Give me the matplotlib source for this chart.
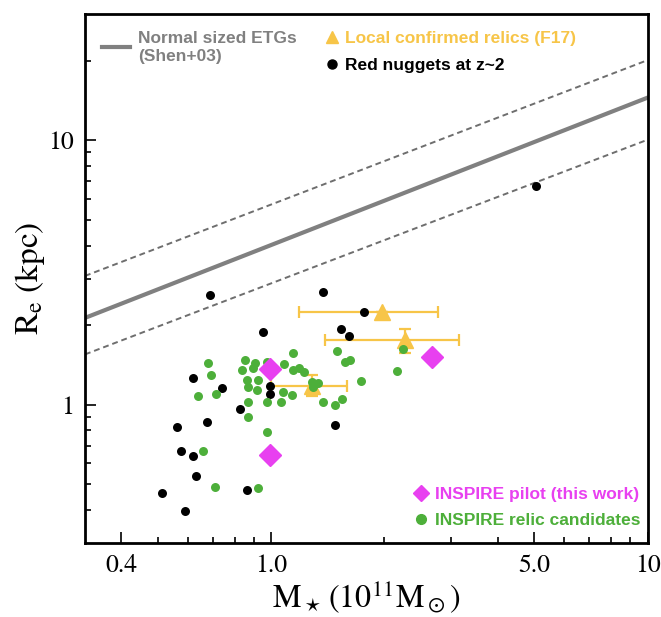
import matplotlib
matplotlib.use('Agg')
import matplotlib.pyplot as plt
from matplotlib.lines import Line2D
from matplotlib.ticker import FixedLocator, NullFormatter, FixedFormatter

plt.rcParams['mathtext.fontset'] = 'stix'

# Shen+03 size-mass relation for normal ETGs (end points) and its scatter
shen_mass = [0.32, 10.0]
shen_re = [2.13, 14.5]
shen_re_hi = [3.07, 20.1]
shen_re_lo = [1.55, 10.05]

# red nuggets at z~2
nug_mass = [5.06, 0.686, 1.371, 0.953, 1.76, 1.53, 1.61, 0.619, 0.742, 0.994, 0.994,
            0.828, 0.562, 0.674, 1.475, 0.575, 0.619, 0.630, 0.513, 0.589, 0.864]
nug_re = [6.73, 2.61, 2.67, 1.89, 2.25, 1.94, 1.82, 1.265, 1.16, 1.18, 1.10,
          0.966, 0.826, 0.862, 0.84, 0.67, 0.641, 0.539, 0.465, 0.397, 0.477]

# INSPIRE relic candidates
cand_mass = [0.678, 0.690, 0.638, 0.712, 0.658, 0.707, 0.924, 0.854, 0.907, 0.838,
             0.896, 0.864, 0.924, 0.870, 0.918, 0.870, 0.870, 0.976, 0.976, 1.082,
             1.143, 1.143, 1.185, 1.22, 1.076, 1.136, 1.063, 1.283, 1.33, 1.29,
             1.37, 1.475, 1.54, 1.50, 1.57, 1.62, 1.73, 2.16, 2.24, 0.976]
cand_re = [1.44, 1.30, 1.08, 1.10, 0.67, 0.49, 0.486, 1.48, 1.44, 1.356,
           1.38, 1.24, 1.24, 1.17, 1.14, 1.026, 0.90, 1.026, 0.79, 1.42,
           1.57, 1.356, 1.38, 1.33, 1.12, 1.09, 1.026, 1.22, 1.21, 1.17,
           1.026, 1.0, 1.05, 1.60, 1.45, 1.48, 1.23, 1.34, 1.63, 1.45]

# local confirmed relics (F17) with errors
rel_mass = [1.975, 2.27, 1.28]
rel_mass_lo = [1.185, 1.39, 1.0]
rel_mass_hi = [2.77, 3.15, 1.59]
rel_re = [2.24, 1.76, 1.18]
rel_re_lo = [2.24, 1.57, 1.08]
rel_re_hi = [2.24, 1.94, 1.29]

# INSPIRE pilot
pilot_mass = [0.99, 0.99, 2.68]
pilot_re = [1.37, 0.647, 1.51]

grey = '#808080'
orange = '#F7C548'
green = '#4DAF3A'
magenta = '#E840F0'

fig = plt.figure(figsize=(6.61, 6.17), dpi=100)
ax = fig.add_axes([0.1286, 0.120, 0.8510, 0.857])

ax.plot(shen_mass, shen_re, color=grey, lw=3, zorder=2)
ax.plot(shen_mass, shen_re_hi, color='#6e6e6e', lw=1.4, ls=(0, (3, 2)), zorder=2)
ax.plot(shen_mass, shen_re_lo, color='#6e6e6e', lw=1.4, ls=(0, (3, 2)), zorder=2)

xerr = [[m - l for m, l in zip(rel_mass, rel_mass_lo)],
        [h - m for m, h in zip(rel_mass, rel_mass_hi)]]
yerr = [[r - l for r, l in zip(rel_re, rel_re_lo)],
        [h - r for r, h in zip(rel_re, rel_re_hi)]]
ax.errorbar(rel_mass, rel_re, xerr=xerr, yerr=yerr, fmt='^', color=orange,
            ms=12, mec=orange, elinewidth=1.6, capsize=4, capthick=1.6, zorder=3)

ax.scatter(nug_mass, nug_re, s=42, color='black', zorder=4, linewidths=0)
ax.scatter(cand_mass, cand_re, s=42, color=green, zorder=5, linewidths=0)
ax.plot(pilot_mass, pilot_re, 'D', color=magenta, ms=11, mec=magenta, ls='none', zorder=6)

ax.set_xscale('log')
ax.set_yscale('log')
ax.set_xlim(0.32, 10)
ax.set_ylim(0.3, 30)

ax.xaxis.set_major_locator(FixedLocator([0.4, 1.0, 5.0, 10]))
ax.xaxis.set_major_formatter(FixedFormatter(['0.4', '1.0', '5.0', '10']))
ax.xaxis.set_minor_locator(FixedLocator([0.5, 0.6, 0.7, 0.8, 0.9, 2, 3, 4, 6, 7, 8, 9]))
ax.xaxis.set_minor_formatter(NullFormatter())
ax.yaxis.set_major_locator(FixedLocator([1, 10]))
ax.yaxis.set_major_formatter(FixedFormatter(['1', '10']))
ax.yaxis.set_minor_locator(FixedLocator([0.4, 0.5, 0.6, 0.7, 0.8, 0.9,
                                         2, 3, 4, 5, 6, 7, 8, 9, 20]))
ax.yaxis.set_minor_formatter(NullFormatter())

ax.tick_params(which='both', direction='in', width=1.2, colors='black')
ax.tick_params(which='major', length=8, labelsize=18.5, pad=8)
ax.tick_params(which='minor', length=4)
for lab in ax.get_xticklabels() + ax.get_yticklabels():
    lab.set_family('STIXGeneral')
for sp in ax.spines.values():
    sp.set_linewidth(2)

ax.set_xlabel(r'$\mathrm{M}_\star\,(10^{11}\mathrm{M}_\odot)$', fontsize=23, labelpad=0)
ax.set_ylabel(r'$\mathrm{R_e\ (kpc)}$', fontsize=24, labelpad=1)

prop = dict(family='Liberation Sans', weight='bold', size=12.5)

leg1 = ax.legend([Line2D([], [], color=grey, lw=3)], ['Normal sized ETGs\n(Shen+03)'],
                 loc='upper left', bbox_to_anchor=(0.03, 0.968), frameon=False,
                 prop=prop, labelcolor='linecolor', handlelength=1.6,
                 handletextpad=0.5, borderpad=0, borderaxespad=0)
ax.add_artist(leg1)

leg2 = ax.legend([Line2D([], [], marker='^', color=orange, ls='none', ms=9),
                  Line2D([], [], marker='o', color='black', ls='none', ms=6.5)],
                 ['Local confirmed relics (F17)', 'Red nuggets at z~2'],
                 loc='upper left', bbox_to_anchor=(0.426, 0.968), frameon=False,
                 prop=prop, labelcolor='markerfacecolor', handlelength=0.8,
                 handletextpad=0.4, labelspacing=0.65, borderpad=0, borderaxespad=0)
ax.add_artist(leg2)

ax.legend([Line2D([], [], marker='D', color=magenta, ls='none', ms=8),
           Line2D([], [], marker='o', color=green, ls='none', ms=7)],
          ['INSPIRE pilot (this work)', 'INSPIRE relic candidates'],
          loc='lower right', bbox_to_anchor=(0.988, 0.028), frameon=False,
          prop=prop, labelcolor='markerfacecolor', handlelength=0.8,
          handletextpad=0.4, labelspacing=0.65, borderpad=0, borderaxespad=0)

fig.savefig('out.png', dpi=100)
